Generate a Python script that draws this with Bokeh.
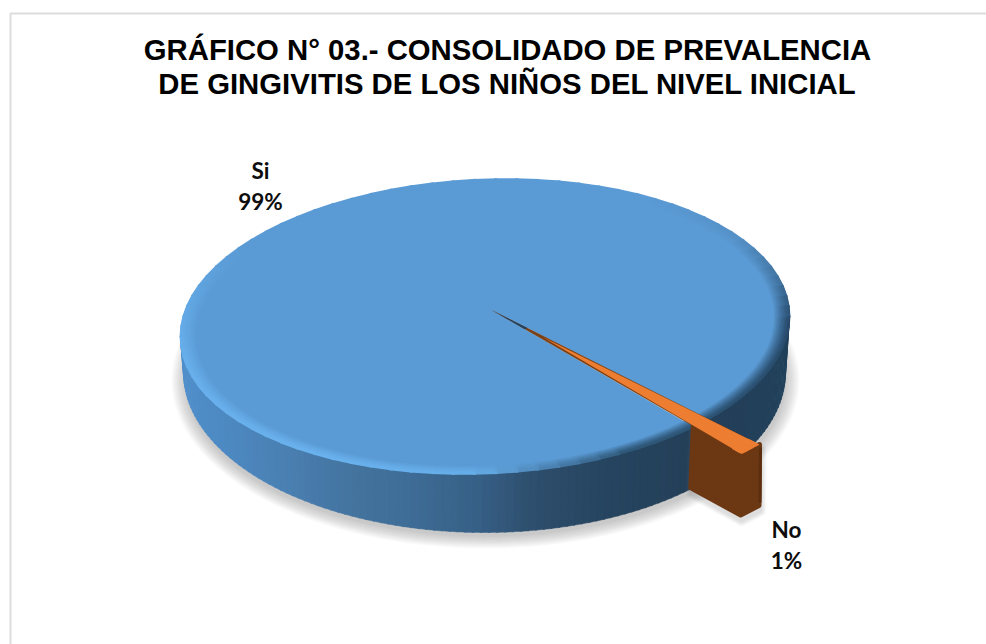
import numpy as np
from bokeh.plotting import figure
from bokeh.core.properties import value
from bokeh.embed import file_html
from bokeh.resources import INLINE

# ---- data
categories = ["Si", "No"]
values = [99, 1]
percent_labels = ["99%", "1%"]
title_lines = ["GRÁFICO N° 03.- CONSOLIDADO DE PREVALENCIA",
               "DE GINGIVITIS DE LOS NIÑOS DEL NIVEL INICIAL"]
first_slice_angle = 51.2      # degrees, screen clockwise from +x

# ---- geometry of the 3-D pie (page pixels)
W, H = 986, 644
CX, TIPY = 484.5, 309.0
RX, A, K = 302.5, 145.0, 0.1156   # projective disc -> page
SHEAR = -0.033
TIP_DX = 5.5
EXPLODE = 1.207
SLICE_DEPTH = 63
TOP = dict(cx=484.5, cy=326.0, rx=304.5, ry=147.0)
BOT = dict(cx=484.0, cy=372.0, rx=301.0, ry=160.0)

# ---- colours
FACE = "#5B9BD5"
ORANGE = "#ED7D31"
BROWN = "#6C3813"
BROWN_EDGE = "#5A2E0F"
side_x = [180, 250, 350, 400, 480, 530, 600, 700, 790]
side_c = ["#4F8FCB", "#4C85BB", "#44749F", "#3F6E98", "#365F85", "#2E4F6E", "#264560", "#243F58", "#21405B"]
rim_a = [0, 30, 60, 75, 90, 120, 170, 190, 215, 300, 325, 345, 360]
rim_c = ["#27496A", "#2B5070", "#2F5878", "#4A7FAE", "#66AEE8", "#6AB2EE", "#68B0EC", "#62A8E4", "#5B9BD5",
         "#5B9BD5", "#5590C6", "#3F709C", "#27496A"]


def rgb(h):
    return np.array([int(h[i:i + 2], 16) for i in (1, 3, 5)], float)


def hexc(c):
    return "#%02x%02x%02x" % tuple(int(round(v)) for v in c)


def ramp(x, xs, cs):
    m = np.array([rgb(c) for c in cs])
    return np.array([np.interp(x, xs, m[:, i]) for i in range(3)])


def disc(r, deg):
    """point on the pie's top plane: radius r, angle deg -> page pixels"""
    t = np.radians(deg)
    u, v = r * np.cos(t), r * np.sin(t)
    w = 1 - K * v
    x = CX + RX * u / w + TIP_DX * np.clip(1 - r * r, 0, 1)
    y = TIPY + A * v / w + SHEAR * RX * u / w
    return x, y


def ell(e, deg, s=1.0, shear=0.0):
    t = np.radians(deg)
    x = e["cx"] + s * e["rx"] * np.cos(t)
    y = e["cy"] + s * e["ry"] * np.sin(t) + shear * s * e["rx"] * np.cos(t)
    return x, y


p = figure(width=W, height=H, x_range=(0, W), y_range=(H, 0),
           output_backend="svg", toolbar_location=None,
           x_axis_location=None, y_axis_location=None, min_border=0,
           background_fill_color="white", border_fill_color="white")
p.grid.visible = False
p.outline_line_color = None

# frame of the chart area (its right and bottom edges are outside the photo)
p.line([10, 10, W], [H, 13, 13], line_color="#DCDCDC", line_width=2)

# soft shadow of the pie
for i in range(12):
    g = i / 11
    p.ellipse(x=[BOT["cx"] + 1], y=[BOT["cy"] + 8], width=[2 * (BOT["rx"] + 13 - 14 * g)],
              height=[2 * (BOT["ry"] + 8 - 12 * g)], fill_color="#7F7F7F", fill_alpha=0.035, line_color=None)

# slice angles come from the values
share = np.array(values, float) / sum(values) * 360
si_start = first_slice_angle
si_end = si_start + share[0]
no_start, no_end = si_end, si_end + share[1]

# side wall of the pie
phis = np.arange(-16, 197, 1.5)
sx, sy, sc = [], [], []
for a, b in zip(phis[:-1], phis[1:]):
    xa, ya = ell(TOP, a, shear=SHEAR)
    xb, yb = ell(TOP, b + 0.3, shear=SHEAR)
    xc, yc = ell(BOT, b + 0.3)
    xd, yd = ell(BOT, a)
    sx.append([xa, xb, xc, xd])
    sy.append([ya, yb, yc, yd])
    sc.append(hexc(ramp((xa + xb) / 2, side_x, side_c)))
p.patches(sx, sy, fill_color=sc, line_color=sc, line_width=0.5)

# top face: the big slice
deg = np.linspace(si_start, si_end, 240)
fx, fy = disc(1.0, deg)
tx, ty = disc(0.0, 0.0)
p.patch(np.r_[tx, fx], np.r_[ty, fy], fill_color=FACE, line_color=None)

# bevel of the rim: colour fades into the face going inwards
LAYERS = 10
rims = np.arange(0, 360, 4.0)
lx, ly, lc = [], [], []
for i in range(LAYERS - 1, -1, -1):
    s = 1 - 0.0052 * i
    f = (i / LAYERS) ** 1.3
    for a in rims:
        x0, y0 = ell(TOP, a - 0.3, s, SHEAR)
        x1, y1 = ell(TOP, a + 4.3, s, SHEAR)
        lx.append([x0, x1])
        ly.append([y0, y1])
        lc.append(hexc(ramp(a, rim_a, rim_c) * (1 - f) + rgb(FACE) * f))
p.multi_line(lx, ly, line_color=lc, line_width=2)

# the exploded small slice: shadow, cut face, top
arc = np.linspace(no_start, no_end, 8)
ax, ay = disc(EXPLODE, arc[::-1])          # from upper end to lower end
fx2 = np.r_[disc(1.0, no_end)[0], disc(EXPLODE, no_end)[0], disc(EXPLODE, no_start)[0]]
fy2 = np.r_[disc(1.0, no_end)[1], disc(EXPLODE, no_end)[1], disc(EXPLODE, no_start)[1]]
bx = fx2[::-1] + np.array([-0.5, -1, -2.5])
by = fy2[::-1] + SLICE_DEPTH - 2
for i in range(5):
    p.patch(np.r_[fx2, bx] + 1, np.r_[fy2, by] + 5, fill_color=None, fill_alpha=0,
            line_color="#7F7F7F", line_alpha=0.05, line_width=12 - 2 * i, line_join="round")
p.patch(np.r_[fx2, bx], np.r_[fy2, by], fill_color=BROWN, line_color=BROWN, line_width=5, line_join="round")
p.line(np.r_[fx2[2] + 1, bx[0] + 1], np.r_[fy2[2] + 3, by[0] - 3], line_color=BROWN_EDGE, line_width=3)

# the thin part of the slice runs from navy through brown to orange
p.patch(np.r_[tx, ax], np.r_[ty, ay], fill_color="#7A4015", line_color=None)
inner_navy, inner_orange = 0.18, 0.26
mid = (no_start + no_end) / 2
p.patch([tx, disc(inner_navy, no_start + 0.2)[0], disc(inner_navy, no_end + 0.3)[0]],
        [ty, disc(inner_navy, no_start + 0.2)[1], disc(inner_navy, no_end + 0.3)[1]],
        fill_color="#22415E", line_color=None)
ix, iy = disc(inner_orange, mid)
ox, oy = disc(EXPLODE, arc)
p.patch(np.r_[ix, ox], np.r_[iy, oy], fill_color=ORANGE, line_color=None)
ex, ey = disc(np.array([EXPLODE - 0.012, EXPLODE - 0.012, EXPLODE - 0.04, EXPLODE - 0.04]),
              np.array([no_end - 0.2, no_start + 0.2, no_start + 0.2, no_end - 0.2]))
p.patch(ex, ey, fill_color=ORANGE, line_color=ORANGE, line_width=2.5, line_join="round")

# texts
for txt, y in zip(title_lines, [49, 83]):
    p.text([507], [y], text=[txt], text_font=value("Liberation Sans"), text_font_style="bold",
           text_font_size="29.3px", text_color="#000000", text_align="center", text_baseline="alphabetic")

label_x = [260, 786]
label_y = [170, 529]
for c, pc, x, y in zip(categories, percent_labels, label_x, label_y):
    for t, yy in ((c, y), (pc, y + 31)):
        p.text([x], [yy], text=[t], text_font=value("Lato"), text_font_style="bold",
               text_font_size="22.5px", text_color="#0D0D0D", text_align="center", text_baseline="alphabetic")

open("out.html", "w").write(file_html(p, INLINE))
